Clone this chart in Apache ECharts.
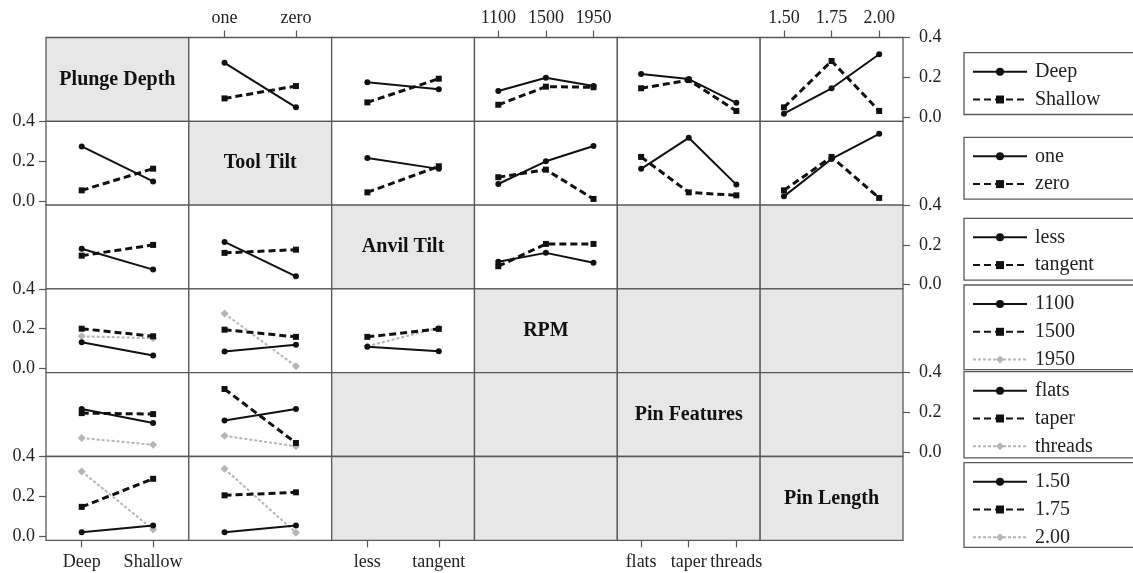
<!DOCTYPE html>
<html>
<head>
<meta charset="utf-8">
<script src="https://cdn.jsdelivr.net/npm/echarts@6/dist/echarts.min.js"></script>
<style>
  html, body { margin: 0; padding: 0; background: #fff; }
  #chart { width: 1133px; height: 573px; }
</style>
</head>
<body>
<div id="chart"></div>
<script>
// factor names and levels
const factors = ['Plunge Depth', 'Tool Tilt', 'Anvil Tilt', 'RPM', 'Pin Features', 'Pin Length'];
const depthLevels = ['Deep', 'Shallow'];
const tiltLevels = ['one', 'zero'];
const anvilLevels = ['less', 'tangent'];
const rpmLevels = ['1100', '1500', '1950'];
const pinFeatLevels = ['flats', 'taper', 'threads'];
const pinLenLevels = ['1.50', '1.75', '2.00'];
const yTicks = [0, 0.2, 0.4];

// cell means: one inner array per trace level (row factor), over column factor levels
const depthVsTilt = [[0.273, 0.049], [0.094, 0.156]];
const depthVsAnvil = [[0.175, 0.140], [0.074, 0.193]];
const depthVsRpm = [[0.131, 0.198, 0.156], [0.062, 0.153, 0.150]];
const depthVsPinFeat = [[0.217, 0.191, 0.072], [0.145, 0.186, 0.031]];
const depthVsPinLen = [[0.017, 0.145, 0.316], [0.049, 0.282, 0.031]];

const tiltVsDepth = [[0.274, 0.098], [0.053, 0.162]];
const tiltVsAnvil = [[0.216, 0.161], [0.043, 0.174]];
const tiltVsRpm = [[0.085, 0.199, 0.276], [0.119, 0.157, 0.010]];
const tiltVsPinFeat = [[0.161, 0.317, 0.082], [0.221, 0.043, 0.028]];
const tiltVsPinLen = [[0.023, 0.211, 0.337], [0.053, 0.221, 0.015]];

const anvilVsDepth = [[0.181, 0.076], [0.146, 0.200]];
const anvilVsTilt = [[0.215, 0.042], [0.160, 0.176]];
const anvilVsRpm = [[0.115, 0.160, 0.110], [0.093, 0.205, 0.205]];

const rpmVsDepth = [[0.132, 0.065], [0.200, 0.162], [0.162, 0.152]];
const rpmVsTilt = [[0.085, 0.120], [0.195, 0.159], [0.276, 0.011]];
const rpmVsAnvil = [[0.109, 0.087], [0.159, 0.199], [0.112, 0.204]];

const pinFeatVsDepth = [[0.218, 0.147], [0.197, 0.192], [0.072, 0.038]];
const pinFeatVsTilt = [[0.160, 0.218], [0.318, 0.047], [0.083, 0.030]];

const pinLenVsDepth = [[0.020, 0.053], [0.147, 0.288], [0.325, 0.033]];
const pinLenVsTilt = [[0.020, 0.053], [0.205, 0.220], [0.338, 0.017]];

const levels = [depthLevels, tiltLevels, anvilLevels, rpmLevels, pinFeatLevels, pinLenLevels];
const cellData = {
  '0,1': depthVsTilt, '0,2': depthVsAnvil, '0,3': depthVsRpm, '0,4': depthVsPinFeat, '0,5': depthVsPinLen,
  '1,0': tiltVsDepth, '1,2': tiltVsAnvil, '1,3': tiltVsRpm, '1,4': tiltVsPinFeat, '1,5': tiltVsPinLen,
  '2,0': anvilVsDepth, '2,1': anvilVsTilt, '2,3': anvilVsRpm,
  '3,0': rpmVsDepth, '3,1': rpmVsTilt, '3,2': rpmVsAnvil,
  '4,0': pinFeatVsDepth, '4,1': pinFeatVsTilt,
  '5,0': pinLenVsDepth, '5,1': pinLenVsTilt
};

// layout
const gridLeft = 46, gridTop = 37.5;
const cellW = 142.83, cellH = 83.8;
const font = 'Liberation Serif';
const frameColor = '#585858';

// trace styles: solid/circle, dashed/square, light dotted/diamond
const traceStyles = [
  { color: '#111', type: 'solid', width: 2, symbol: 'circle', size: 6 },
  { color: '#111', type: [7, 4], width: 3, symbol: 'rect', size: 6 },
  { color: '#b5b5b5', type: [3, 2], width: 2, symbol: 'diamond', size: 8 }
];

const grids = [], xAxes = [], yAxes = [], series = [], graphics = [];

for (let r = 0; r < 6; r++) {
  for (let c = 0; c < 6; c++) {
    const i = r * 6 + c;
    const data = cellData[r + ',' + c];
    grids.push({
      left: gridLeft + c * cellW,
      top: gridTop + r * cellH,
      width: cellW,
      height: cellH,
      show: true,
      backgroundColor: data ? '#ffffff' : '#e7e7e7',
      borderColor: frameColor,
      borderWidth: 1.3
    });

    const showX = (c % 2 === 1 && r === 0) || (c % 2 === 0 && r === 5);
    xAxes.push({
      type: 'category',
      gridIndex: i,
      data: levels[c],
      boundaryGap: true,
      position: c % 2 === 1 ? 'top' : 'bottom',
      axisLine: { show: false, onZero: false },
      axisTick: { show: showX, alignWithLabel: true, length: 7, lineStyle: { color: frameColor, width: 1.2 } },
      axisLabel: { show: showX, margin: c % 2 === 1 ? 10 : 13, color: '#222', fontFamily: font, fontSize: 18, interval: 0 },
      splitLine: { show: false }
    });

    const showY = (r % 2 === 1 && c === 0) || (r % 2 === 0 && c === 5);
    yAxes.push({
      type: 'value',
      gridIndex: i,
      min: -0.021,
      max: 0.4,
      position: r % 2 === 0 ? 'right' : 'left',
      axisLine: { show: false, onZero: false },
      axisTick: { show: showY, customValues: yTicks, length: 7, lineStyle: { color: frameColor, width: 1.2 } },
      axisLabel: {
        show: showY, customValues: yTicks, margin: r % 2 === 0 ? 16 : 11,
        color: '#222', fontFamily: font, fontSize: 18,
        formatter: v => v.toFixed(1)
      },
      splitLine: { show: false }
    });

    if (r === c) {
      graphics.push({
        type: 'text',
        x: gridLeft + c * cellW + cellW / 2,
        y: gridTop + r * cellH + cellH / 2,
        style: {
          text: factors[r],
          font: 'bold 20px "Liberation Serif"',
          fill: '#111',
          align: 'center',
          verticalAlign: 'middle'
        }
      });
    }

    if (data) {
      data.forEach((vals, k) => {
        const st = traceStyles[k];
        series.push({
          name: levels[r][k],
          type: 'line',
          xAxisIndex: i,
          yAxisIndex: i,
          data: vals,
          symbol: st.symbol,
          symbolSize: st.size,
          showSymbol: true,
          z: 10 - k,
          lineStyle: { color: st.color, type: st.type, width: st.width },
          itemStyle: { color: st.color }
        });
      });
    }
  }
}

// one legend box per factor
const legendTops = [52.7, 137.3, 218.3, 285, 371.7, 462.7];
const legendBottomPad = [5, 5, 5, 0, 1.5, 0];
const legends = levels.map((lv, r) => ({
  data: lv,
  orient: 'vertical',
  left: 964,
  top: legendTops[r],
  padding: [9, 300, legendBottomPad[r], 8],
  itemGap: 7.8,
  itemWidth: 54,
  itemHeight: 10,
  borderColor: frameColor,
  borderWidth: 1.3,
  selectedMode: false,
  textStyle: { fontFamily: font, fontSize: 20, color: '#222', padding: [0, 0, 0, 3] }
}));

const chart = echarts.init(document.getElementById('chart'));
chart.setOption({
  animation: false,
  backgroundColor: '#ffffff',
  grid: grids,
  xAxis: xAxes,
  yAxis: yAxes,
  legend: legends,
  series: series,
  graphic: graphics
});
</script>
</body>
</html>
